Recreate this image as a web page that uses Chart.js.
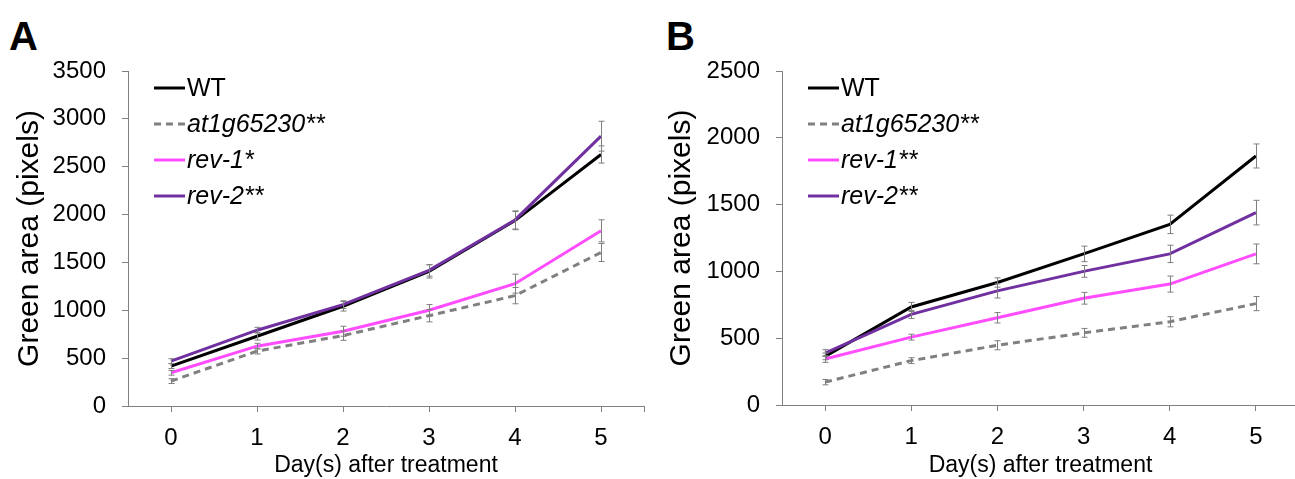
<!DOCTYPE html>
<html lang="en">
<head>
<meta charset="UTF-8">
<title>Green area after treatment</title>
<script src="https://cdn.jsdelivr.net/npm/chart.js"></script>
<style>
  body {
    margin: 0;
    width: 1295px;
    height: 479px;
    overflow: hidden;
    background: #fff;
    font-family: "Liberation Sans", Arial, sans-serif;
  }
  .panel { position: absolute; top: 0; height: 479px; }
  #panelA { left: 0; width: 647px; }
  #panelB { left: 647px; width: 652px; }
  .letter {
    position: absolute;
    top: 16px;
    font-size: 40px;
    line-height: 1;
    font-weight: bold;
    color: #000;
  }
</style>
</head>
<body>
  <div class="letter" style="left: 9px;">A</div>
  <div class="letter" style="left: 666px;">B</div>
  <div class="panel" id="panelA"><canvas id="chartA" width="647" height="479"></canvas></div>
  <div class="panel" id="panelB"><canvas id="chartB" width="652" height="479"></canvas></div>

<script>
// x categories (days after treatment)
const days = [0, 1, 2, 3, 4, 5];
const seriesNames = ['WT', 'at1g65230', 'rev-1', 'rev-2'];
const marksA = ['', '**', '*', '**'];
const marksB = ['', '**', '**', '**'];

// panel A - means
const wtA    = [417, 729, 1042, 1406, 1937, 2628];
const at1gA  = [260, 573, 736, 944, 1153, 1604];
const rev1A  = [347, 625, 781, 1000, 1278, 1830];
const rev2A  = [469, 792, 1059, 1417, 1944, 2819];
// panel A - error bars
const wtErrA   = [25, 40, 50, 69, 95, 90];
const at1gErrA = [25, 30, 50, 65, 85, 94];
const rev1ErrA = [25, 30, 52, 60, 99, 115];
const rev2ErrA = [25, 30, 40, 60, 95, 156];

// panel B - means
const wtB    = [364, 734, 917, 1131, 1352, 1864];
const at1gB  = [171, 332, 447, 540, 623, 759];
const rev1B  = [344, 508, 653, 799, 905, 1131];
const rev2B  = [389, 678, 854, 1000, 1131, 1440];
// panel B - error bars
const wtErrB   = [25, 34, 35, 58, 69, 90];
const at1gErrB = [20, 22, 34, 33, 38, 53];
const rev1ErrB = [25, 22, 39, 44, 60, 74];
const rev2ErrB = [25, 30, 53, 44, 65, 92];

const yTicksA = { max: 3500, step: 500 };
const yTicksB = { max: 2500, step: 500 };

const lineColors = ['#000000', '#808080', '#ff4dff', '#7030a0'];
const lineDashes = [[], [7, 5], [], []];
const drawOrder = [1, 3, 2, 0];
const FONT = '"Liberation Sans", Arial, sans-serif';
const AXIS_GREY = '#808080';

// error bars drawn from dataset.errors through the scales
const errorBarPlugin = {
  id: 'errorBars',
  afterDatasetsDraw(chart) {
    const ctx = chart.ctx;
    const xs = chart.scales.x, ys = chart.scales.y;
    ctx.save();
    ctx.strokeStyle = '#7f7f7f';
    ctx.lineWidth = 1;
    chart.data.datasets.forEach(ds => {
      ds.data.forEach((p, i) => {
        const e = ds.errors[i];
        const x = Math.round(xs.getPixelForValue(p.x)) + 0.5;
        const yTop = ys.getPixelForValue(p.y + e);
        const yBot = ys.getPixelForValue(p.y - e);
        ctx.beginPath();
        ctx.moveTo(x, yTop); ctx.lineTo(x, yBot);
        ctx.moveTo(x - 3, yTop); ctx.lineTo(x + 3, yTop);
        ctx.moveTo(x - 3, yBot); ctx.lineTo(x + 3, yBot);
        ctx.stroke();
      });
    });
    ctx.restore();
  }
};

// legend inside the plot, italic gene names
const innerLegendPlugin = {
  id: 'innerLegend',
  afterDraw(chart, args, opts) {
    const ctx = chart.ctx;
    ctx.save();
    ctx.textBaseline = 'middle';
    chart.data.datasets.forEach((ds, i) => {
      const y = opts.y + i * opts.gap;
      ctx.beginPath();
      ctx.strokeStyle = ds.borderColor;
      ctx.lineWidth = 3;
      ctx.setLineDash(ds.borderDash || []);
      ctx.moveTo(opts.x, y);
      ctx.lineTo(opts.x + 31, y);
      ctx.stroke();
      ctx.setLineDash([]);
      ctx.fillStyle = '#000';
      ctx.font = (i === 0 ? '' : 'italic ') + '25px ' + FONT;
      ctx.fillText(ds.label, opts.x + 33, y + 1);
    });
    ctx.restore();
  }
};

function buildDatasets(means, errs, marks) {
  return means.map((vals, i) => ({
    label: seriesNames[i] + marks[i],
    data: days.map((d, j) => ({ x: d, y: vals[j] })),
    errors: errs[i],
    borderColor: lineColors[i],
    borderDash: lineDashes[i],
    borderWidth: 3,
    pointRadius: 0,
    tension: 0,
    fill: false,
    order: drawOrder[i]
  }));
}

function makePanel(canvasId, means, errs, marks, yTicks, geo) {
  return new Chart(document.getElementById(canvasId), {
    type: 'line',
    data: { datasets: buildDatasets(means, errs, marks) },
    plugins: [errorBarPlugin, innerLegendPlugin],
    options: {
      responsive: false,
      animation: false,
      layout: { padding: { top: geo.top, right: geo.right, left: 0, bottom: 0 } },
      plugins: {
        legend: { display: false },
        tooltip: { enabled: false },
        innerLegend: { x: geo.legendX, y: 88, gap: 36 }
      },
      scales: {
        x: {
          type: 'linear',
          min: -0.5,
          max: 5.5,
          afterBuildTicks: s => { s.ticks = days.concat([5.5]).map(v => ({ value: v })); },
          afterFit: s => {
            s.height = geo.xHeight;
            s.paddingLeft = 0;
            s.paddingRight = 0;
          },
          border: { color: AXIS_GREY, width: 1 },
          grid: { drawOnChartArea: false, drawTicks: true, tickLength: 6, color: AXIS_GREY },
          ticks: {
            color: '#000',
            padding: 12,
            font: { family: FONT, size: 24 },
            callback: v => (Number.isInteger(v) ? String(v) : '')
          },
          title: {
            display: true,
            text: 'Day(s) after treatment',
            color: '#000',
            font: { family: FONT, size: 23 },
            padding: { top: 0, bottom: 0 }
          }
        },
        y: {
          min: 0,
          max: yTicks.max,
          afterFit: s => { s.width = geo.yWidth; },
          border: { color: AXIS_GREY, width: 1 },
          grid: { drawOnChartArea: false, drawTicks: true, tickLength: 6, color: AXIS_GREY },
          ticks: {
            stepSize: yTicks.step,
            color: '#000',
            padding: 16,
            font: { family: FONT, size: 24 },
            callback: v => String(v)
          },
          title: {
            display: true,
            text: 'Green area (pixels)',
            color: '#000',
            font: { family: FONT, size: 30 },
            padding: { top: geo.titlePad, bottom: 0 }
          }
        }
      }
    }
  });
}

makePanel('chartA',
  [wtA, at1gA, rev1A, rev2A],
  [wtErrA, at1gErrA, rev1ErrA, rev2ErrA],
  marksA, yTicksA,
  { top: 71, right: 3, xHeight: 73, yWidth: 128, legendX: 154, titlePad: 12 });

makePanel('chartB',
  [wtB, at1gB, rev1B, rev2B],
  [wtErrB, at1gErrB, rev1ErrB, rev2ErrB],
  marksB, yTicksB,
  { top: 71, right: 0, xHeight: 74, yWidth: 135, legendX: 161, titlePad: 17 });
</script>
</body>
</html>
